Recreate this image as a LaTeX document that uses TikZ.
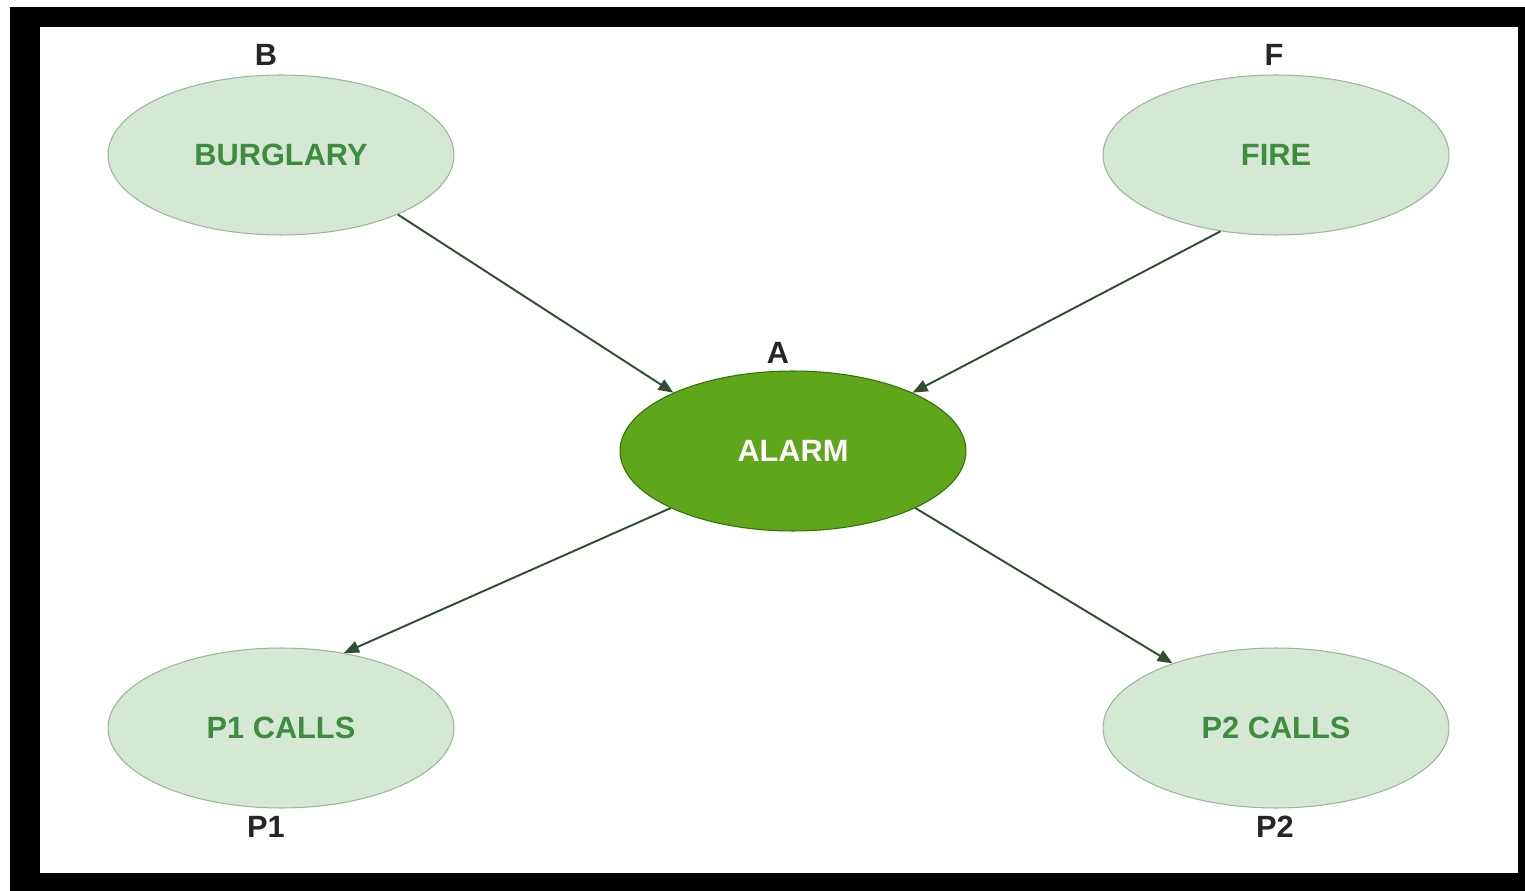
\documentclass[tikz,border=0pt]{standalone}
\usepackage{fontspec}
\setmainfont{Liberation Sans}
\usetikzlibrary{shapes.geometric,arrows.meta}
\definecolor{lightfill}{RGB}{213,232,212}
\definecolor{lightedge}{RGB}{160,178,160}
\definecolor{lighttext}{RGB}{62,140,62}
\definecolor{darkfill}{RGB}{96,166,26}
\definecolor{darkedge}{RGB}{50,112,10}
\definecolor{arrowcol}{RGB}{48,78,48}
\begin{document}
\begin{tikzpicture}[x=0.02cm,y=-0.02cm,
    varnode/.style={ellipse,draw=lightedge,fill=lightfill,line width=0.6pt,minimum width=6.92cm,minimum height=3.2cm,inner sep=0pt,text=lighttext,font=\fontsize{17.5}{20}\selectfont\bfseries},
    alarmnode/.style={varnode,draw=darkedge,fill=darkfill,text=white},
    tag/.style={font=\fontsize{17.5}{20}\selectfont\bfseries,text=black!85},
    link/.style={draw=arrowcol,line width=1.1pt,-{Triangle[length=3mm,width=2.4mm]}}]
          \useasboundingbox (0,0) rectangle (1525,891);
          \fill[white] (0,0) rectangle (1525,891);
          \fill[black] (10,7) rectangle (1525,891);
          \fill[white] (40,27) rectangle (1518,873);
          % variables
          \node[varnode] (burglary) at (281,155) {BURGLARY};
          \node[varnode] (fire) at (1276,155) {FIRE};
          \node[alarmnode] (alarm) at (793,451) {ALARM};
          \node[varnode] (p1calls) at (281,728) {P1 CALLS};
          \node[varnode] (p2calls) at (1276,728) {P2 CALLS};
          \node[tag] (tagb) at (266,55) {B};
          \node[tag] (tagf) at (1274,55) {F};
          \node[tag] (taga) at (778,353) {A};
          \node[tag] (tagpa) at (266,827) {P1};
          \node[tag] (tagpb) at (1275,827) {P2};
          % dependencies
          \draw[link] (burglary.-27) -- (alarm.154);
          \draw[link] (fire.234) -- (alarm.26);
          \draw[link] (alarm.205) -- (p1calls.50);
          \draw[link] (alarm.-25) -- (p2calls.148);
        \end{tikzpicture}
\end{document}
